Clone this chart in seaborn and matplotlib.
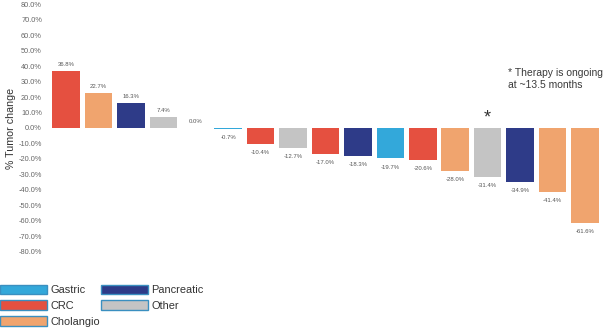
import matplotlib
matplotlib.use("Agg")
import matplotlib.pyplot as plt
from matplotlib.patches import Patch
from matplotlib.ticker import FuncFormatter
import seaborn as sns
import pandas as pd

# Best percent change in tumor size per patient, sorted high to low
patients = [f"P{i + 1}" for i in range(17)]
tumor_change = [36.8, 22.7, 16.3, 7.4, 0.0, -0.7, -10.4, -12.7, -17.0,
                -18.3, -19.7, -20.6, -28.0, -31.4, -34.9, -41.4, -61.6]
cancer_type = ["CRC", "Cholangio", "Pancreatic", "Other", "Other", "Gastric",
               "CRC", "Other", "CRC", "Pancreatic", "Gastric", "CRC",
               "Cholangio", "Other", "Pancreatic", "Cholangio", "Cholangio"]
ongoing_patient = "P14"

legend_order = ["Gastric", "CRC", "Cholangio", "Pancreatic", "Other"]
palette = {
    "Gastric": "#33a8da",
    "CRC": "#e55040",
    "Cholangio": "#f0a46e",
    "Pancreatic": "#2e3b88",
    "Other": "#c4c4c4",
}

df = pd.DataFrame({"patient": patients, "change": tumor_change,
                   "type": cancer_type})

sns.set_style("white")
plt.rcParams["font.family"] = ["Liberation Sans", "DejaVu Sans"]

W, H = 605, 331
fig = plt.figure(figsize=(W / 100, H / 100), dpi=100)
ax = fig.add_axes([46 / W, 1 - 251.7 / H, 1 - 46 / W, (251.7 - 4.3) / H])

sns.barplot(data=df, x="patient", y="change", hue="type", order=patients,
            palette=palette, dodge=False, width=0.85, linewidth=0,
            saturation=1, legend=False, ax=ax)

ax.set_xlim(-0.62, 16.62)
ax.set_ylim(-80, 80)
ax.set_yticks(range(-80, 81, 10))
ax.yaxis.set_major_formatter(FuncFormatter(lambda v, _: f"{v:.1f}%"))
ax.tick_params(axis="y", length=0, pad=2.9, labelsize=5.3, labelcolor="#666666")
ax.set_xticks([])
ax.set_xlabel("")
ax.set_ylabel("% Tumor change", fontsize=7.7, color="#333333")
ax.yaxis.set_label_coords((16 - 46) / (W - 46), 0.5)
for s in ax.spines.values():
    s.set_visible(False)

# Value labels above positive bars, below negative ones
for i, v in enumerate(tumor_change):
    if v >= 0:
        ax.text(i, v + 4.2, f"{v:.1f}%", ha="center", va="center",
                fontsize=4.3, color="#555555")
    else:
        ax.text(i, v - 5.6, f"{v:.1f}%", ha="center", va="center",
                fontsize=4.3, color="#555555")

# Marker for the patient still on therapy
ax.text(patients.index(ongoing_patient), 6.2, "*", ha="center", va="center",
        fontsize=13, color="#333333")
fig.text(508 / W, 1 - 79.5 / H, "* Therapy is ongoing\nat ~13.5 months",
         ha="left", va="center", fontsize=7.5, color="#3a3a3a",
         linespacing=1.25)

handles = [Patch(facecolor=palette[t], edgecolor="#3a8fc0", linewidth=1.0,
                 label=t) for t in legend_order]
fig.legend(handles=handles, ncol=2, loc="upper left",
           bbox_to_anchor=(0 / W, 1 - 284.5 / H), frameon=False,
           fontsize=7.9, handlelength=4.3, handleheight=1.0,
           handletextpad=0.27, columnspacing=0.1, labelspacing=0.48,
           borderpad=0, borderaxespad=0, labelcolor="#333333")

fig.savefig("out.png", dpi=100)
